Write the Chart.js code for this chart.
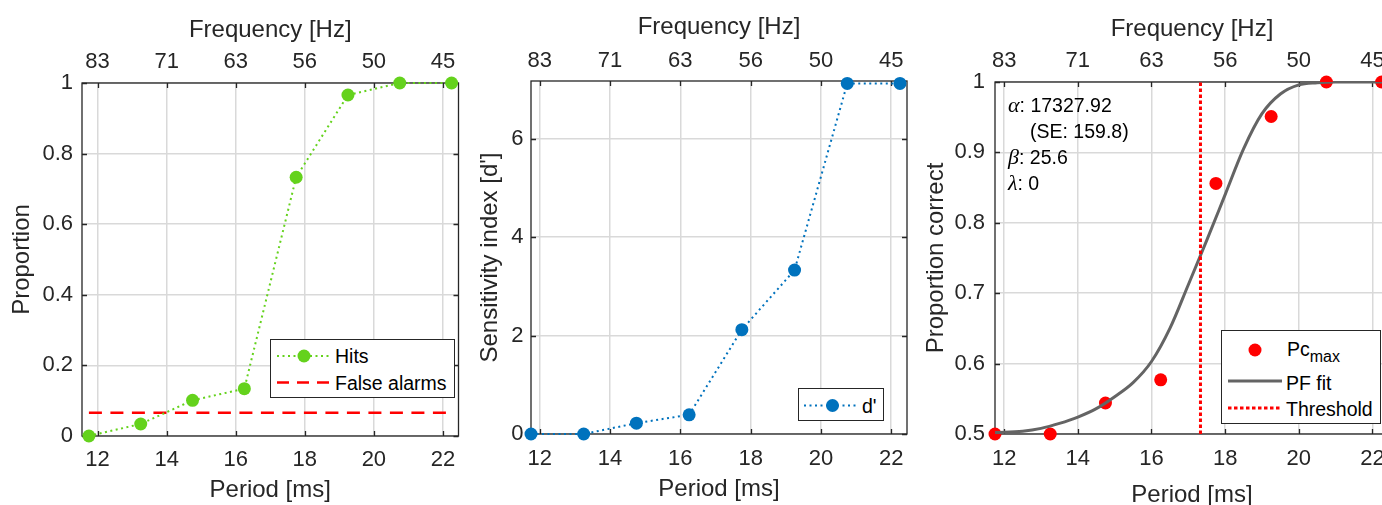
<!DOCTYPE html>
<html>
<head>
<meta charset="utf-8">
<script src="https://cdn.jsdelivr.net/npm/chart.js@4"></script>
<style>
  html, body { margin: 0; padding: 0; background: #fff; width: 1382px; height: 505px; overflow: hidden; }
  body { position: relative; font-family: 'Liberation Sans', Arial, sans-serif; color: #262626; }
  canvas { position: absolute; top: 0; }
  .legend { position: absolute; background: #fff; border: 1.2px solid #262626; box-sizing: border-box; }
  .legend svg { position: absolute; left: 0; top: 0; }
  .lbl { position: absolute; font-size: 19.5px; line-height: 20px; white-space: nowrap; color: #000; }
  .lbl sub { font-size: 16px; vertical-align: -6px; line-height: 0; }
  .note { position: absolute; font-size: 19.5px; line-height: 20px; white-space: nowrap; color: #000; }
  .note i { font-family: 'Liberation Serif', 'DejaVu Serif', serif; font-size: 22px; }
</style>
</head>
<body>
<canvas id="c1" width="465" height="505" style="left:0px"></canvas>
<canvas id="c2" width="455" height="505" style="left:465px"></canvas>
<canvas id="c3" width="490" height="515" style="left:920px"></canvas>

<div class="legend" style="left:270px; top:339px; width:185px; height:59px;">
  <svg width="185" height="59">
    <line x1="6" y1="16" x2="60" y2="16" stroke="#64d21c" stroke-width="2" stroke-dasharray="2 3.5"/>
    <circle cx="33" cy="16" r="6.5" fill="#64d21c"/>
    <line x1="6" y1="42.5" x2="60" y2="42.5" stroke="#ff0000" stroke-width="2.5" stroke-dasharray="12 8"/>
  </svg>
  <span class="lbl" style="left:64px; top:6px;">Hits</span>
  <span class="lbl" style="left:64px; top:32.5px;">False alarms</span>
</div>

<div class="legend" style="left:798px; top:388px; width:86px; height:33px;">
  <svg width="86" height="33">
    <line x1="5" y1="16.5" x2="57" y2="16.5" stroke="#0072bd" stroke-width="2" stroke-dasharray="2 3.5"/>
    <circle cx="33.5" cy="16.5" r="6.5" fill="#0072bd"/>
  </svg>
  <span class="lbl" style="left:63px; top:6.5px;">d'</span>
</div>

<div class="legend" style="left:1221px; top:330px; width:160px; height:94px;">
  <svg width="160" height="94">
    <circle cx="33" cy="19" r="6.5" fill="#ff0000"/>
    <line x1="6" y1="50" x2="60" y2="50" stroke="#646464" stroke-width="3"/>
    <line x1="6" y1="77" x2="58" y2="77" stroke="#ff0000" stroke-width="3" stroke-dasharray="3.5 2.5"/>
  </svg>
  <span class="lbl" style="left:65px; top:8px;">Pc<sub>max</sub></span>
  <span class="lbl" style="left:64px; top:41.5px;">PF fit</span>
  <span class="lbl" style="left:64px; top:68px;">Threshold</span>
</div>

<div class="note" style="left:1008px; top:95px;"><i>α</i>: 17327.92</div>
<div class="note" style="left:1030px; top:121px;">(SE: 159.8)</div>
<div class="note" style="left:1008px; top:147px;"><i>β</i>: 25.6</div>
<div class="note" style="left:1008px; top:173px;"><i>λ</i>: 0</div>

<script>
// stimulus periods (ms) and measured values
const periods = [11.75, 13.25, 14.75, 16.25, 17.75, 19.25, 20.75, 22.25];
const hits = [0, 0.034, 0.101, 0.134, 0.733, 0.966, 1, 1];
const falseAlarm = 0.066;
const dPrime = [0, 0, 0.22, 0.39, 2.12, 3.33, 7.12, 7.12];
const pcMax = [0.5, 0.5, 0.544, 0.577, 0.856, 0.951, 1, 1];

// psychometric fit
const fitPeriods = [11.75, 12.5, 13, 13.5, 14, 14.5, 15, 15.5, 16, 16.5, 17, 17.5, 18, 18.5, 19, 19.5, 20, 20.5, 21, 22.45];
const fitValues = [0.502, 0.504, 0.508, 0.515, 0.524, 0.536, 0.553, 0.573, 0.603, 0.65, 0.712, 0.775, 0.84, 0.905, 0.955, 0.983, 0.996, 0.999, 1, 1];
const threshold = 17.33;

// axis ticks
const periodTicks = [12, 14, 16, 18, 20, 22];
const freqLabels = ['83', '71', '63', '56', '50', '45'];
const propTicks = [0, 0.2, 0.4, 0.6, 0.8, 1];
const dPrimeTicks = [0, 2, 4, 6];
const pcTicks = [0.5, 0.6, 0.7, 0.8, 0.9, 1];

const FONT = "'Liberation Sans', Arial, sans-serif";
const INK = '#262626';
const GRID = '#d9d9d9';

const pts = (xs, ys) => xs.map((x, i) => ({ x: x, y: ys[i] }));

// axes box with inward tick marks, like matlab
const boxPlugin = {
  id: 'axesBox',
  beforeDatasetsDraw(chart) {
    const { ctx, chartArea: a, scales } = chart;
    ctx.save();
    ctx.strokeStyle = INK;
    ctx.lineWidth = 1.3;
    ctx.beginPath();
    scales.x.ticks.forEach(t => {
      const p = Math.round(scales.x.getPixelForValue(t.value)) + 0.5;
      ctx.moveTo(p, a.bottom); ctx.lineTo(p, a.bottom - 5);
      ctx.moveTo(p, a.top); ctx.lineTo(p, a.top + 5);
    });
    scales.y.ticks.forEach(t => {
      const p = Math.round(scales.y.getPixelForValue(t.value)) + 0.5;
      ctx.moveTo(a.left, p); ctx.lineTo(a.left + 5, p);
      ctx.moveTo(a.right, p); ctx.lineTo(a.right - 5, p);
    });
    ctx.stroke();
    ctx.strokeRect(a.left, a.top, a.right - a.left, a.bottom - a.top);
    ctx.restore();
  }
};

function fmt(v) { return String(+v.toFixed(2)); }

function makeOptions(c) {
  return {
    responsive: false,
    animation: false,
    devicePixelRatio: 1,
    layout: { padding: { left: 0, top: 0, bottom: 0, right: c.padRight } },
    plugins: { legend: { display: false }, tooltip: { enabled: false } },
    scales: {
      x: {
        type: 'linear', position: 'bottom', min: c.xMin, max: c.xMax,
        afterBuildTicks: s => { s.ticks = periodTicks.map(v => ({ value: v })); },
        ticks: { padding: c.xTickPad, color: INK, font: { family: FONT, size: 22 }, maxRotation: 0, autoSkip: false, callback: v => fmt(v) },
        grid: { color: GRID, lineWidth: 1.5, drawTicks: false },
        border: { display: false },
        title: { display: true, text: 'Period [ms]', color: INK, font: { family: FONT, size: 24 }, padding: { top: 0, bottom: c.bottomTitlePad } },
        afterFit: s => { s.height = c.bottomH; s.paddingLeft = 0; s.paddingRight = 0; }
      },
      x2: {
        type: 'linear', position: 'top', min: c.xMin, max: c.xMax,
        afterBuildTicks: s => { s.ticks = periodTicks.map(v => ({ value: v })); },
        ticks: { padding: c.x2TickPad, color: INK, font: { family: FONT, size: 22 }, maxRotation: 0, autoSkip: false,
                 callback: v => freqLabels[periodTicks.indexOf(v)] },
        grid: { display: false, drawTicks: false },
        border: { display: false },
        title: { display: true, text: 'Frequency [Hz]', color: INK, font: { family: FONT, size: 24 }, padding: { top: c.topTitlePad, bottom: 0 } },
        afterFit: s => { s.height = c.topH; s.paddingLeft = 0; s.paddingRight = 0; }
      },
      y: {
        type: 'linear', position: 'left', min: c.yMin, max: c.yMax,
        afterBuildTicks: s => { s.ticks = c.yTicks.map(v => ({ value: v })); },
        ticks: { padding: c.yTickPad, color: INK, font: { family: FONT, size: 22 }, autoSkip: false, callback: v => fmt(v) },
        grid: { color: GRID, lineWidth: 1.5, drawTicks: false },
        border: { display: false },
        title: { display: true, text: c.yTitle, color: INK, font: { family: FONT, size: 24 }, padding: { top: c.yTitlePad, bottom: 0 } },
        afterFit: s => { s.width = c.yW; s.paddingTop = 0; s.paddingBottom = 0; }
      }
    }
  };
}

// panel 1: hits and false alarms
new Chart(document.getElementById('c1'), {
  type: 'line',
  data: {
    datasets: [
      { label: 'Hits', data: pts(periods, hits), borderColor: '#64d21c', backgroundColor: '#64d21c',
        borderWidth: 2, borderDash: [2, 3.5], pointRadius: 6.5, pointBorderWidth: 0, clip: false, order: 1 },
      { label: 'False alarms', data: pts([periods[0], periods[periods.length - 1]], [falseAlarm, falseAlarm]),
        borderColor: '#ff0000', borderWidth: 2.5, borderDash: [13, 8.5], pointRadius: 0, order: 2 }
    ]
  },
  options: makeOptions({ padRight: 6, yW: 82, bottomH: 69, topH: 83, xMin: 11.55, xMax: 22.45, yMin: 0, yMax: 1, yTicks: propTicks,
    yTitle: 'Proportion', yTickPad: 9, xTickPad: 10.8, x2TickPad: 8, yTitlePad: 8, topTitlePad: 16, bottomTitlePad: 0 }),
  plugins: [boxPlugin]
});

// panel 2: sensitivity index
new Chart(document.getElementById('c2'), {
  type: 'line',
  data: {
    datasets: [
      { label: "d'", data: pts(periods, dPrime), borderColor: '#0072bd', backgroundColor: '#0072bd',
        borderWidth: 2, borderDash: [2, 3.5], pointRadius: 6.5, pointBorderWidth: 0, clip: false }
    ]
  },
  options: makeOptions({ padRight: 13, yW: 66, bottomH: 71, topH: 81, xMin: 11.75, xMax: 22.45, yMin: 0, yMax: 7.17, yTicks: dPrimeTicks,
    yTitle: "Sensitivity index [d']", yTickPad: 7.5, xTickPad: 11.5, x2TickPad: 7, yTitlePad: 11, topTitlePad: 13, bottomTitlePad: 1.6 }),
  plugins: [boxPlugin]
});

// panel 3: proportion correct with PF fit
new Chart(document.getElementById('c3'), {
  type: 'line',
  data: {
    datasets: [
      { label: 'Threshold', data: pts([threshold, threshold], [0.5, 1]), borderColor: '#ff0000',
        borderWidth: 3, borderDash: [3.5, 2.5], pointRadius: 0, order: 1 },
      { label: 'PF fit', data: pts(fitPeriods, fitValues), borderColor: '#646464', borderWidth: 3,
        cubicInterpolationMode: 'monotone', pointRadius: 0, order: 2 },
      { label: 'Pc max', data: pts(periods, pcMax), showLine: false, backgroundColor: '#ff0000', borderColor: '#ff0000',
        pointRadius: 6.5, pointBorderWidth: 0, clip: false, order: 3 }
    ]
  },
  options: makeOptions({ padRight: 21, yW: 75, bottomH: 81, topH: 82, xMin: 11.75, xMax: 22.45, yMin: 0.5, yMax: 1, yTicks: pcTicks,
    yTitle: 'Proportion correct', yTickPad: 10, xTickPad: 11.5, x2TickPad: 8, yTitlePad: 2, topTitlePad: 15, bottomTitlePad: 5 }),
  plugins: [boxPlugin]
});
</script>
</body>
</html>
